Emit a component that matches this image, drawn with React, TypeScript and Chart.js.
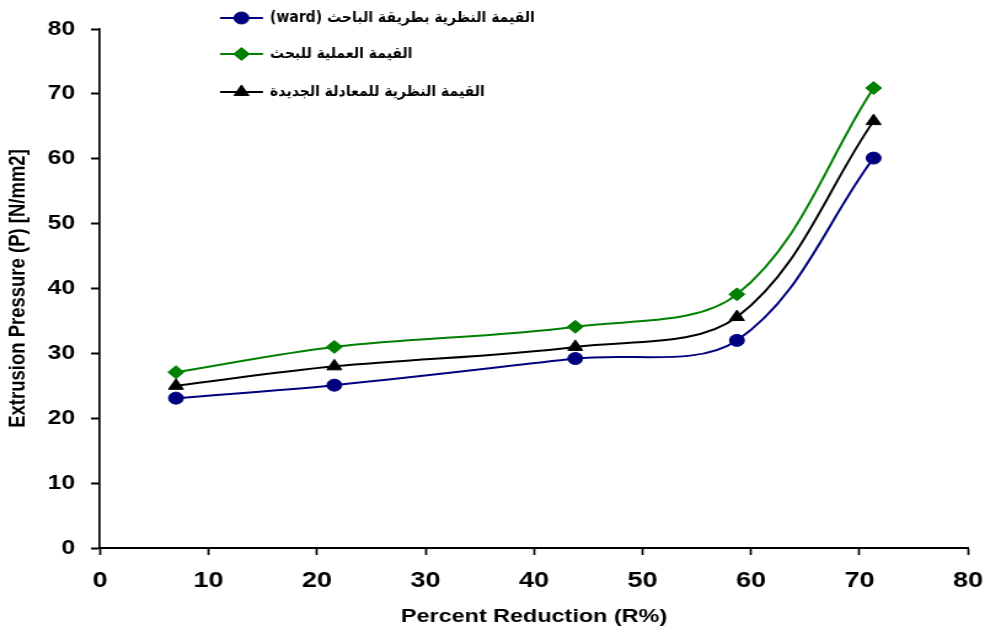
import React, { useEffect, useRef } from 'react';
import { Chart, registerables } from 'chart.js';

Chart.register(...registerables);

// ---- data ----
const reductionPercent = [7, 21.6, 43.8, 58.7, 71.3];
const wardValues = [23.1, 25.1, 29.2, 32.0, 60.1];
const experimentalValues = [27.1, 31.0, 34.1, 39.1, 70.9];
const newEquationValues = [25.0, 28.0, 31.0, 35.6, 65.8];
const seriesLabels = [
  'القيمة النظرية بطريقة الباحث (ward)',
  'القيمة العملية للبحث',
  'القيمة النظرية للمعادلة الجديدة',
];
const seriesColors = ['#00007F', '#008000', '#000000'];
const seriesMarkers = ['circle', 'rectRot', 'triangle'];
const seriesMarkerRadius = [6, 6.5, 7];
const xAxisMin = 0;
const xAxisMax = 80;
const yAxisMin = 0;
const yAxisMax = 80;
const tickStep = 10;
const xTitle = 'Percent Reduction (R%)';
const yTitle = 'Extrusion Pressure (P) [N/mm2]';

// ---- layout (the original picture is stretched horizontally) ----
const OUT_W = 985;
const OUT_H = 631;
const INNER_W = 801;
const S = OUT_W / INNER_W;
const px = (v: number) => v / S; // reference-x to inner-x

const toPoints = (ys: number[]) => ys.map((y, i) => ({ x: reductionPercent[i], y }));

function drawMarker(ctx: CanvasRenderingContext2D, style: string, x: number, y: number, r: number, color: string) {
  ctx.save();
  ctx.fillStyle = color;
  ctx.strokeStyle = color;
  ctx.lineWidth = 1;
  ctx.beginPath();
  if (style === 'circle') {
    ctx.arc(x, y, r, 0, Math.PI * 2);
  } else if (style === 'rectRot') {
    ctx.moveTo(x, y - r);
    ctx.lineTo(x + r, y);
    ctx.lineTo(x, y + r);
    ctx.lineTo(x - r, y);
    ctx.closePath();
  } else {
    const a = Math.PI * 2 / 3;
    ctx.moveTo(x, y - r);
    ctx.lineTo(x + Math.sin(a) * r, y - Math.cos(a) * r);
    ctx.lineTo(x + Math.sin(2 * a) * r, y - Math.cos(2 * a) * r);
    ctx.closePath();
  }
  ctx.fill();
  ctx.stroke();
  ctx.restore();
}

const legendLayout = { lineStart: px(220), lineEnd: px(263), textX: px(270), rows: [18, 54, 92], textScale: 0.76 };

const lineLegendPlugin = {
  id: 'lineLegend',
  afterDraw(chart: any) {
    const ctx: CanvasRenderingContext2D = chart.ctx;
    chart.data.datasets.forEach((ds: any, i: number) => {
      const y = legendLayout.rows[i];
      ctx.save();
      ctx.strokeStyle = ds.borderColor;
      ctx.lineWidth = 2;
      ctx.beginPath();
      ctx.moveTo(legendLayout.lineStart, y);
      ctx.lineTo(legendLayout.lineEnd, y);
      ctx.stroke();
      drawMarker(ctx, ds.pointStyle, (legendLayout.lineStart + legendLayout.lineEnd) / 2, y, ds.pointRadius, ds.borderColor);
      ctx.translate(legendLayout.textX, y);
      ctx.scale(legendLayout.textScale, 1);
      ctx.fillStyle = '#000';
      ctx.font = 'bold 15px "DejaVu Sans", "Liberation Sans", Arial, sans-serif';
      (ctx as any).direction = 'rtl';
      ctx.textAlign = 'left';
      ctx.textBaseline = 'middle';
      ctx.fillText(ds.label, 0, 0);
      ctx.restore();
    });
  },
};

export default function App() {
  const canvasRef = useRef<HTMLCanvasElement | null>(null);

  useEffect(() => {
    if (!canvasRef.current) return;
    const chart = new Chart(canvasRef.current, {
      type: 'line',
      data: {
        datasets: [wardValues, experimentalValues, newEquationValues].map((vals, i) => ({
          label: seriesLabels[i],
          data: toPoints(vals),
          borderColor: seriesColors[i],
          backgroundColor: seriesColors[i],
          borderWidth: 2,
          pointStyle: seriesMarkers[i] as any,
          pointRadius: seriesMarkerRadius[i],
          pointBorderWidth: 1,
          tension: 0.35,
          fill: false,
        })),
      },
      options: {
        animation: false,
        responsive: false,
        devicePixelRatio: 1,
        layout: { padding: { top: 29, right: INNER_W - px(968), left: 0, bottom: 0 } },
        plugins: {
          legend: { display: false },
          tooltip: { enabled: false },
        },
        scales: {
          x: {
            type: 'linear',
            min: xAxisMin,
            max: xAxisMax,
            afterFit: (s: any) => { s.height = OUT_H - 548; s.paddingLeft = 0; s.paddingRight = 0; },
            ticks: {
              stepSize: tickStep,
              color: '#000',
              padding: 13,
              font: { family: '"Liberation Sans", Arial, sans-serif', size: 22, weight: 'bold' },
            },
            grid: { display: true, drawOnChartArea: false, drawTicks: true, tickLength: 7, tickColor: '#000', tickWidth: 1.7 },
            border: { display: true, color: '#000', width: 2 },
            title: {
              display: true,
              text: xTitle,
              color: '#000',
              padding: { top: 0, bottom: 3 },
              font: { family: '"Liberation Sans", Arial, sans-serif', size: 19, weight: 'bold' },
            },
          },
          y: {
            type: 'linear',
            min: yAxisMin,
            max: yAxisMax,
            afterFit: (s: any) => { s.width = px(100); },
            ticks: {
              stepSize: tickStep,
              color: '#000',
              padding: 13,
              font: { family: '"Liberation Sans", Arial, sans-serif', size: 20, weight: 'bold' },
            },
            grid: { display: true, drawOnChartArea: false, drawTicks: true, tickLength: px(9), tickColor: '#000', tickWidth: 2 },
            border: { display: true, color: '#000', width: 1.7 },
            title: {
              display: true,
              text: yTitle,
              color: '#000',
              padding: { top: px(18) - 11.1, bottom: 0 },
              font: { family: '"Liberation Sans", Arial, sans-serif', size: 18.5, weight: 'bold' },
            },
          },
        },
      },
      plugins: [lineLegendPlugin],
    });
    return () => chart.destroy();
  }, []);

  return (
    <div style={{ position: 'fixed', left: 0, top: 0, width: OUT_W, height: OUT_H, background: '#fff', overflow: 'hidden' }}>
      <div style={{ width: INNER_W, height: OUT_H, transform: `scaleX(${S})`, transformOrigin: '0 0' }}>
        <canvas ref={canvasRef} width={INNER_W} height={OUT_H} style={{ width: INNER_W, height: OUT_H, display: 'block' }} />
      </div>
    </div>
  );
}
